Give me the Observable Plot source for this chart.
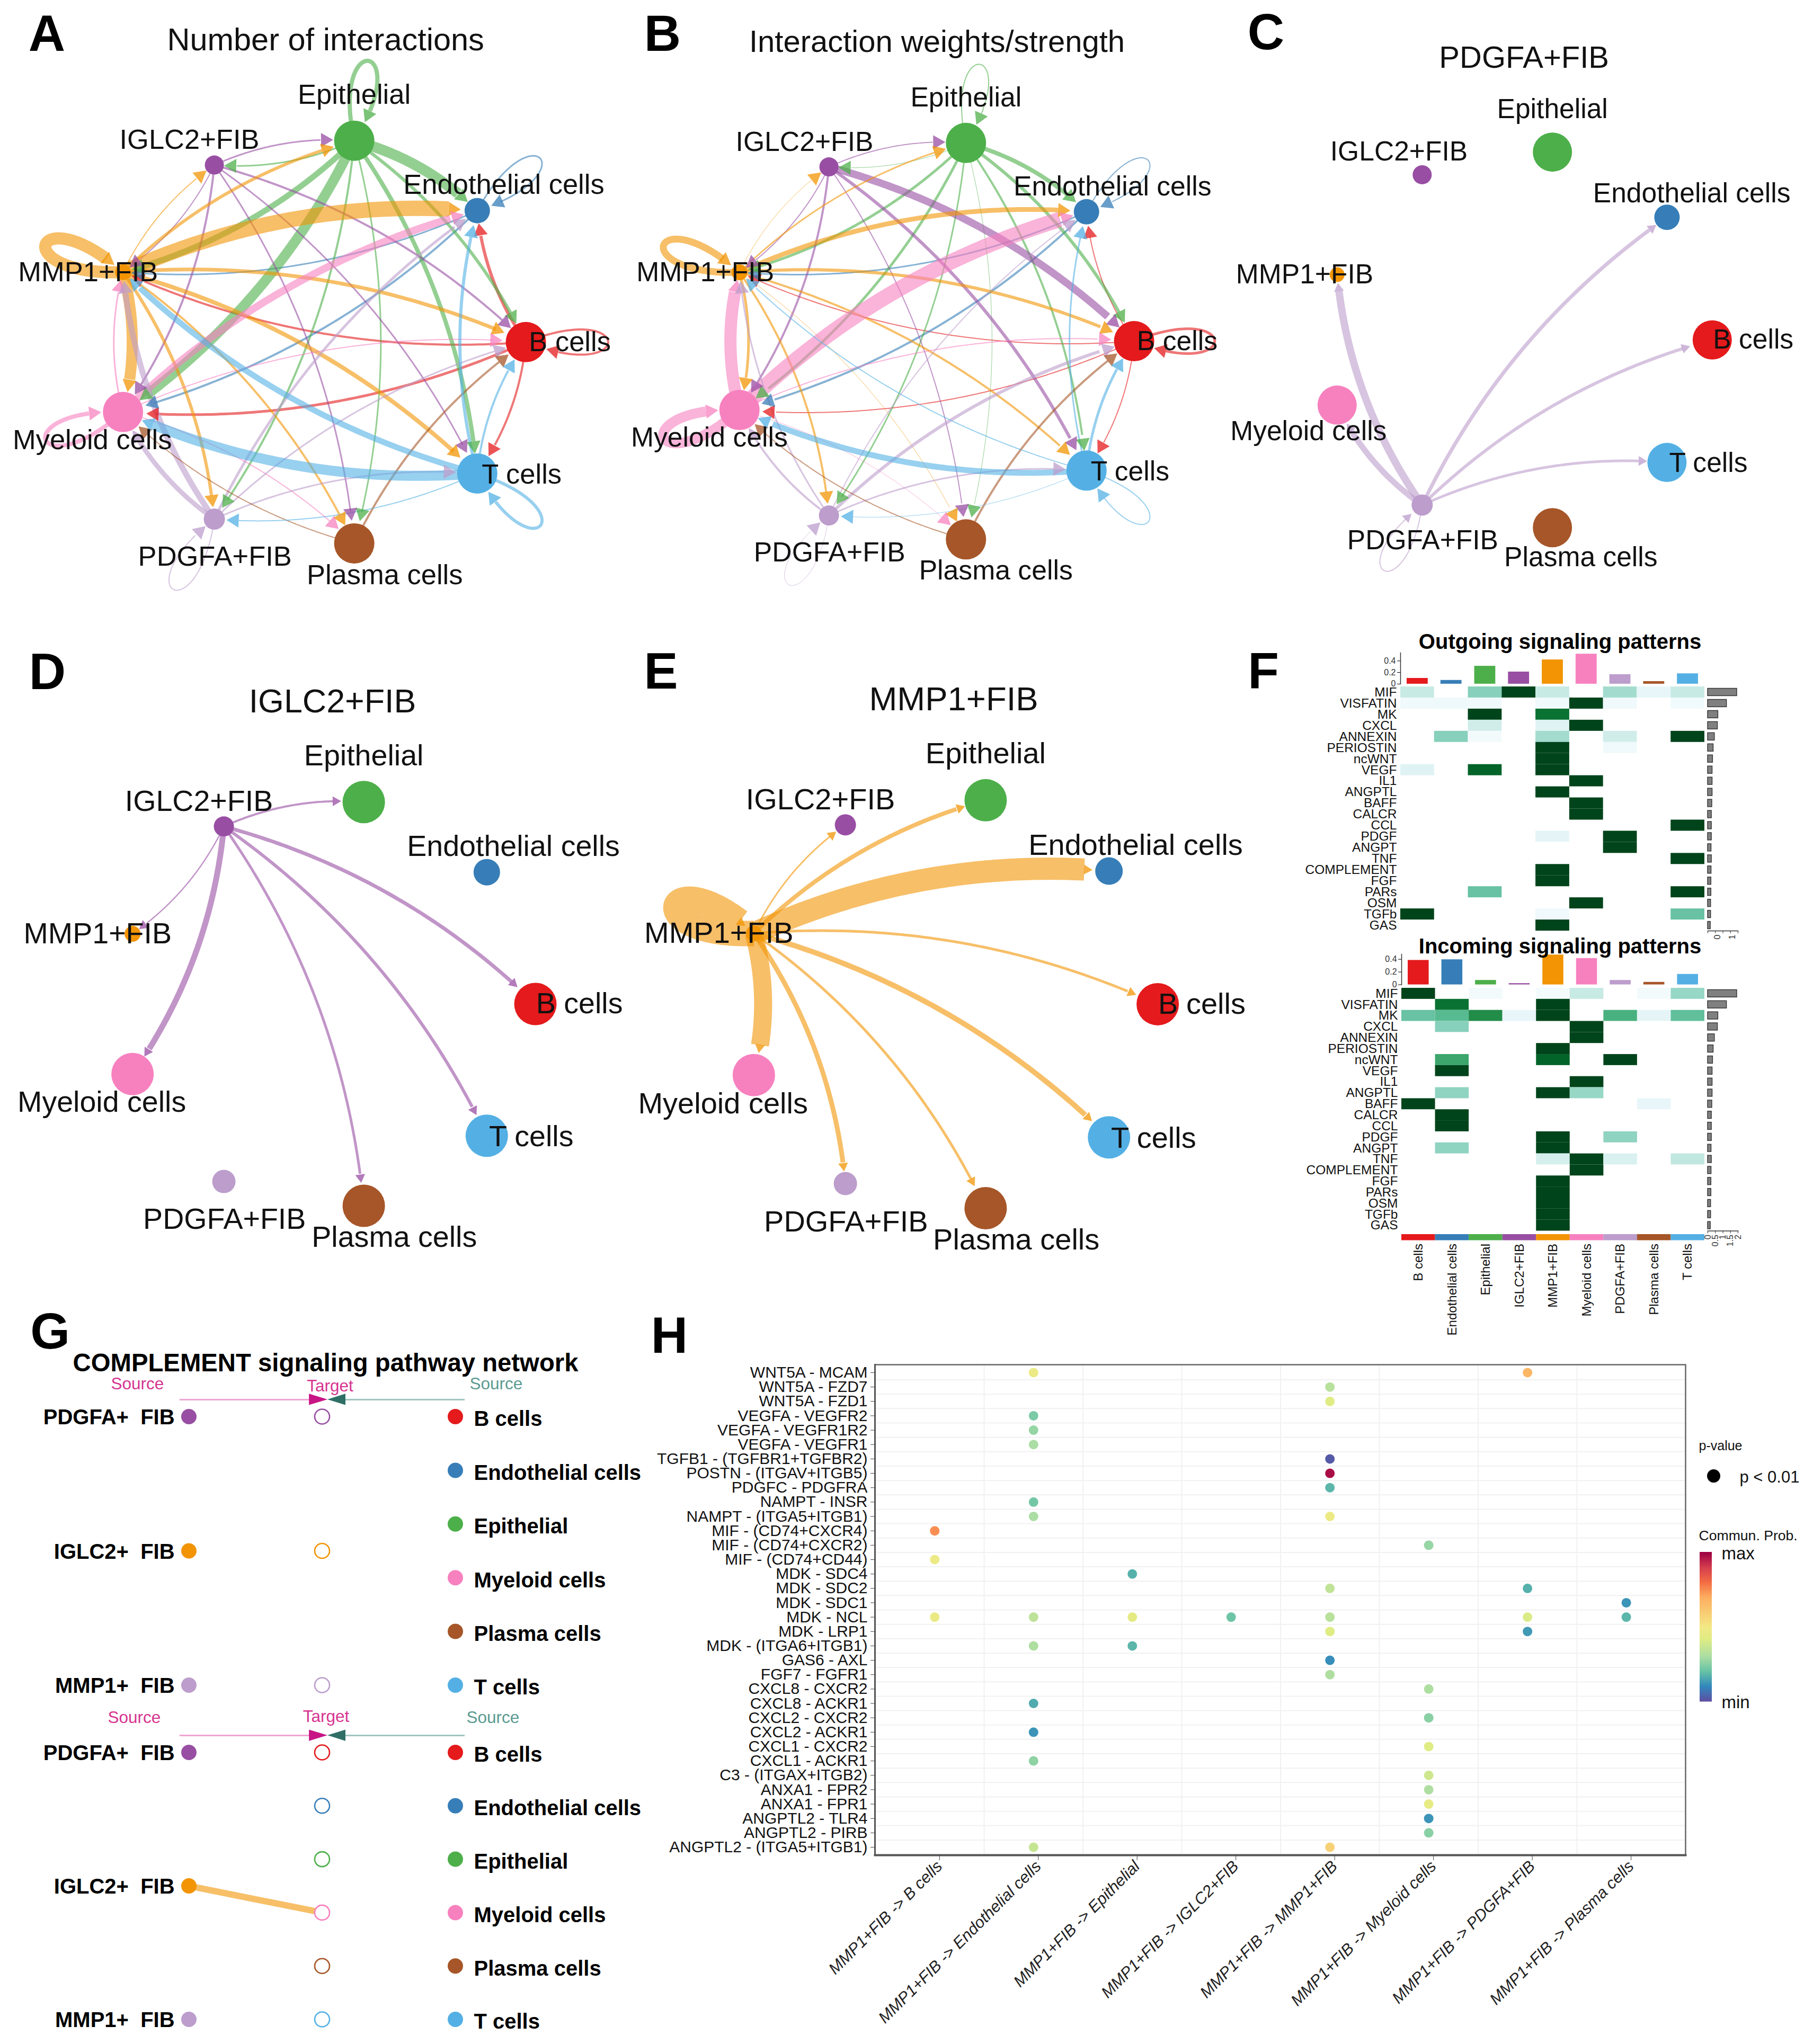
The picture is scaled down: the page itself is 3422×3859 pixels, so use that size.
<!doctype html>
<html><head><meta charset="utf-8">
<script src="https://cdn.jsdelivr.net/npm/d3@7"></script>
<script src="https://cdn.jsdelivr.net/npm/@observablehq/plot@0.6"></script>
<style>
html,body{margin:0;background:#fff}
#page{position:relative;width:3422px;height:3859px;overflow:hidden;background:#fff}
svg text{white-space:pre}
</style></head><body><div id="page"></div>
<script>
const FONT = '"Liberation Sans", Arial, sans-serif';
// ---------- shared categories ----------
const cellTypes = ["B cells","Endothelial cells","Epithelial","IGLC2+FIB","MMP1+FIB","Myeloid cells","PDGFA+FIB","Plasma cells","T cells"];
const cellColors = ["#E41A1C","#377EB8","#4DAF4A","#984EA3","#F29403","#F781BF","#BC9DCC","#A65628","#54B0E4"];
const nodeAngles = [0,40,80,120,160,200,240,280,320];
const labelOffX = [.212,.128,0,-.12,-.168,-.148,.003,.147,.214];
const labelOffY = [0,.125,.225,.122,0,-.138,-.185,-.155,-.005];

// ---------- A / B edge strengths (row = source, column = target) ----------
const interactionCounts = [
 [4,6,0,0,4,5,0,0,4],
 [0,3,0,0,3,4,0,0,0],
 [6,20,8,3,11,19,4,3,8],
 [4,0,3,0,2,4,0,3,3],
 [7,29,6,2,23,21,6,4,8],
 [2,14,0,0,3,8,0,2,0],
 [3,5,0,0,11,9,2,0,3],
 [4,0,0,0,0,2,0,0,0],
 [4,6,0,0,11,19,2,0,6]];
const interactionWeights = [
 [5,2,0,0,2,2,0,0,2],
 [0,2,0,0,3,4,0,0,0],
 [6,8,2,1,5,5,3,1,4],
 [14,0,2,0,2,4,0,2,6],
 [6,9,3,1,13,5,4,1,4],
 [2,29,0,0,23,19,0,1,0],
 [6,2,0,0,3,4,1,0,3],
 [4,0,0,0,0,2,0,0,0],
 [5,3,0,0,2,11,1,0,2]];
const pdgfaEdges = [6,7,0,0,14,11,2,0,5];
const iglc2Edges = [7,0,4,0,2.5,11,0,5,6];
const mmp1Edges  = [5,42,8,3,48,34,9,5,10];
const zeroRow = [0,0,0,0,0,0,0,0,0];
const single = (i,row)=>cellTypes.map((_,k)=>k===i?row:zeroRow);

// ---------- F ----------
const pathways = ["MIF","VISFATIN","MK","CXCL","ANNEXIN","PERIOSTIN","ncWNT","VEGF","IL1","ANGPTL","BAFF","CALCR","CCL","PDGF","ANGPT","TNF","COMPLEMENT","FGF","PARs","OSM","TGFb","GAS"];
const outgoing = [
 [.25,0,.42,1,.25,0,.35,.1,.25],
 [.05,.06,.05,0,.05,1,.05,0,.04],
 [0,0,1,0,.85,0,0,0,0],
 [0,0,.22,0,.15,1,0,0,0],
 [0,.42,.03,0,.35,0,.22,0,1],
 [0,0,0,0,1,0,.05,0,0],
 [0,0,0,0,1,0,0,0,0],
 [.15,0,.9,0,1,0,0,0,0],
 [0,0,0,0,0,1,0,0,0],
 [0,0,0,0,1,0,0,0,0],
 [0,0,0,0,0,1,0,0,0],
 [0,0,0,0,0,1,0,0,0],
 [0,0,0,0,0,0,0,0,1],
 [0,0,0,0,.12,0,1,0,0],
 [0,0,0,0,0,0,1,0,0],
 [0,0,0,0,0,0,0,0,1],
 [0,0,0,0,1,0,0,0,0],
 [0,0,0,0,1,0,0,0,0],
 [0,0,.5,0,0,0,0,0,1],
 [0,0,0,0,0,1,0,0,0],
 [1,0,0,0,.05,0,0,0,.5],
 [0,0,0,0,1,0,0,0,0]];
const incoming = [
 [1,0,.03,0,.02,.25,0,.03,.38],
 [0,.85,0,0,1,0,0,0,0],
 [.5,.55,.75,.1,1,0,.6,.12,.52],
 [0,.42,0,0,0,1,0,0,0],
 [0,0,0,0,0,1,0,0,0],
 [0,0,0,0,1,0,0,0,0],
 [0,.65,0,0,.9,0,1,0,0],
 [0,1,0,0,0,0,0,0,0],
 [0,0,0,0,0,1,0,0,0],
 [0,.4,0,0,1,.38,0,0,0],
 [1,0,0,0,0,0,0,.1,0],
 [0,1,0,0,0,0,0,0,0],
 [0,1,0,0,0,0,0,0,0],
 [0,0,0,0,1,0,.4,0,0],
 [0,.4,0,0,1,0,0,0,0],
 [0,0,0,0,.2,1,.18,0,.27],
 [0,0,0,0,0,1,0,0,0],
 [0,0,0,0,1,0,0,0,0],
 [0,0,0,0,1,0,0,0,0],
 [0,0,0,0,1,0,0,0,0],
 [0,0,0,0,1,0,0,0,0],
 [0,0,0,0,1,0,0,0,0]];
const outgoingTop = [.10,.065,.31,.21,.42,.52,.165,.045,.18];
const incomingTop = [.385,.395,.07,.02,.47,.415,.07,.04,.165];
const pathwayTotals = [1.93,1.25,.68,.65,.45,.37,.33,.3,.3,.3,.28,.25,.25,.25,.23,.25,.23,.22,.22,.2,.2,.18];

// ---------- G ----------
const leftNames = ["PDGFA+  FIB","IGLC2+  FIB","MMP1+  FIB"];
const leftKeys = ["IGLC2+FIB","MMP1+FIB","PDGFA+FIB"];
const leftRows = [0,2.5,5];
const rightNames = ["B cells","Endothelial cells","Epithelial","Myeloid cells","Plasma cells","T cells"];

// ---------- H ----------
const lrPairs = ["WNT5A - MCAM","WNT5A - FZD7","WNT5A - FZD1","VEGFA - VEGFR2","VEGFA - VEGFR1R2","VEGFA - VEGFR1","TGFB1 - (TGFBR1+TGFBR2)","POSTN - (ITGAV+ITGB5)","PDGFC - PDGFRA","NAMPT - INSR","NAMPT - (ITGA5+ITGB1)","MIF - (CD74+CXCR4)","MIF - (CD74+CXCR2)","MIF - (CD74+CD44)","MDK - SDC4","MDK - SDC2","MDK - SDC1","MDK - NCL","MDK - LRP1","MDK - (ITGA6+ITGB1)","GAS6 - AXL","FGF7 - FGFR1","CXCL8 - CXCR2","CXCL8 - ACKR1","CXCL2 - CXCR2","CXCL2 - ACKR1","CXCL1 - CXCR2","CXCL1 - ACKR1","C3 - (ITGAX+ITGB2)","ANXA1 - FPR2","ANXA1 - FPR1","ANGPTL2 - TLR4","ANGPTL2 - PIRB","ANGPTL2 - (ITGA5+ITGB1)"];
const pairTargets = ["MMP1+FIB -> B cells","MMP1+FIB -> Endothelial cells","MMP1+FIB -> Epithelial","MMP1+FIB -> IGLC2+FIB","MMP1+FIB -> MMP1+FIB","MMP1+FIB -> Myeloid cells","MMP1+FIB -> PDGFA+FIB","MMP1+FIB -> Plasma cells"];
const bubbleRow = [0,0,1,2,3,4,5,6,7,8,9,10,10,11,12,13,14,15,15,16,17,17,17,17,17,17,17,18,18,19,19,20,21,22,23,24,25,26,27,28,29,30,31,32,33,33];
const bubbleCol = [2,7,5,5,2,2,2,5,5,5,2,2,5,1,6,1,3,5,7,8,1,2,3,4,5,7,8,5,7,2,3,5,5,6,2,6,2,6,2,6,6,6,6,6,2,5];
const bubbleProb = [.47,.67,.33,.42,.23,.27,.3,.02,.98,.18,.22,.3,.47,.75,.27,.47,.17,.35,.17,.12,.46,.34,.44,.21,.33,.41,.18,.42,.13,.31,.18,.11,.31,.31,.16,.25,.12,.42,.26,.38,.31,.45,.12,.25,.36,.58];
const probStops = [0,.1,.2,.3,.42,.5,.7,.8,.9,1];
const probColors = ["#5E4FA2","#3288BD","#66C2A5","#ABDDA4","#E0EC84","#F3E885","#FDAE61","#F46D43","#D53E4F","#9E0142"];

// ---------- helpers ----------
const page = document.getElementById("page");
function place(plot,left,top){
  Object.assign(plot.style,{position:"absolute",left:left+"px",top:top+"px",maxWidth:"none",background:"transparent",overflow:"visible",fontFamily:FONT});
  page.append(plot);
}
const rad = d=>d*Math.PI/180;
const colorScale = {domain:cellTypes,range:cellColors,type:"ordinal"};

function network({cx,cy,rx,ry,matrix,sizes,title,titleX,titleY,labelSize,titleSize,head}){
  const ext=1.62, w=2*ext*rx, h=2*ext*ry;
  const nodes = cellTypes.map((name,i)=>({name,x:Math.cos(rad(nodeAngles[i])),y:Math.sin(rad(nodeAngles[i])),r:sizes[i],
     lx:Math.cos(rad(nodeAngles[i]))+labelOffX[i],ly:Math.sin(rad(nodeAngles[i]))+labelOffY[i]}));
  const pts=[],heads=[]; let id=0;
  const hl=head/rx, n=90;
  matrix.forEach((row,s)=>row.forEach((width,t)=>{
    if(!width) return;
    const S=nodes[s],T=nodes[t],curve=[];
    if(s===t){
      const L=.57,phi=22,th=nodeAngles[s];
      const c1=[S.x+L*Math.cos(rad(th+phi)),S.y+L*Math.sin(rad(th+phi))];
      const c2=[S.x+L*Math.cos(rad(th-phi)),S.y+L*Math.sin(rad(th-phi))];
      for(let k=0;k<=n;k++){const u=k/n,v=1-u;
        curve.push([v*v*v*S.x+3*v*v*u*c1[0]+3*v*u*u*c2[0]+u*u*u*S.x,v*v*v*S.y+3*v*v*u*c1[1]+3*v*u*u*c2[1]+u*u*u*S.y]);}
    } else {
      const dx=T.x-S.x,dy=T.y-S.y;
      const c=[(S.x+T.x)/2-dy*.13,(S.y+T.y)/2+dx*.13];
      for(let k=0;k<=n;k++){const u=k/n,v=1-u;
        curve.push([v*v*S.x+2*v*u*c[0]+u*u*T.x,v*v*S.y+2*v*u*c[1]+u*u*T.y]);}
    }
    const rT=T.r/rx, dist=p=>Math.hypot(p[0]-T.x,p[1]-T.y);
    let tipI=curve.length-1; while(tipI>0&&dist(curve[tipI])<rT) tipI--;
    let cutI=tipI; while(cutI>0&&dist(curve[cutI])<rT+hl) cutI--;
    const tip=curve[tipI],cut=curve[cutI];
    const len=Math.hypot(tip[0]-cut[0],tip[1]-cut[1])||1,ux=(tip[0]-cut[0])/len,uy=(tip[1]-cut[1])/len;
    curve.slice(0,cutI+1).forEach(p=>pts.push({id,source:S.name,width,x:p[0],y:p[1]}));
    heads.push({source:S.name,x:tip[0]-ux*hl*2/3,y:tip[1]-uy*hl*2/3,angle:Math.atan2(ux,uy)*180/Math.PI});
    id++;
  }));
  const plot=Plot.plot({width:w,height:h,margin:0,
    x:{domain:[-ext,ext],range:[0,w],axis:null},y:{domain:[-ext,ext],range:[h,0],axis:null},
    color:colorScale,r:{type:"identity"},style:{background:"transparent"},
    marks:[
      Plot.line(pts,{x:"x",y:"y",z:"id",stroke:"source",strokeWidth:"width",strokeOpacity:.6,strokeLinecap:"butt",strokeLinejoin:"round"}),
      Plot.dot(heads,{x:"x",y:"y",symbol:"triangle",r:head*.4287,rotate:"angle",fill:"source",fillOpacity:.75,stroke:"none"}),
      Plot.dot(nodes,{x:"x",y:"y",r:"r",fill:"name",stroke:"none"}),
      Plot.text(nodes,{x:"lx",y:"ly",text:"name",fontSize:labelSize,fill:"#111",fontFamily:FONT}),
      Plot.text([title],{x:()=>titleX,y:()=>titleY,text:d=>d,fontSize:titleSize,fill:"#111",fontFamily:FONT})
    ]});
  place(plot,cx-ext*rx,cy-ext*ry);
}

network({cx:600,cy:645,rx:392,ry:386,matrix:interactionCounts,sizes:[38,24,38,18,15,38,20,38,38],title:"Number of interactions",titleX:.036,titleY:1.477,labelSize:52.5,titleSize:59.5,head:23});
network({cx:1756,cy:643.5,rx:384,ry:380,matrix:interactionWeights,sizes:[38,24,38,18,15,38,19,38,38],title:"Interaction weights/strength",titleX:.031,titleY:1.485,labelSize:51.7,titleSize:58,head:23});
network({cx:2866,cy:641,rx:365,ry:360,matrix:single(6,pdgfaEdges),sizes:[37,24,37,18,14,37,20,37,37],title:"PDGFA+FIB",titleX:.027,titleY:1.478,labelSize:51.6,titleSize:58,head:16});
network({cx:618,cy:1895,rx:392,ry:387,matrix:single(3,iglc2Edges),sizes:[40,25,40,19,15,40,22,40,40],title:"IGLC2+FIB",titleX:.023,titleY:1.475,labelSize:55.6,titleSize:62.8,head:16});
network({cx:1792,cy:1895,rx:393,ry:391,matrix:single(4,mmp1Edges),sizes:[40,26,40,20,15,40,22,40,40],title:"MMP1+FIB",titleX:.02,titleY:1.47,labelSize:56,titleSize:63.5,head:16});

// ---------- F ----------
function flat(matrix){return matrix.flatMap((r,i)=>r.map((v,j)=>({row:pathways[i],col:cellTypes[j],v}))).filter(d=>d.v>0);}
function heatBlock({matrix,topBars,left,right,top,bottom,barZero,barScale,barMax,title,titleY,rightTicks,rightDx}){
  const w=right-left,h=bottom-top,mL=340;
  place(Plot.plot({width:mL+w,height:h,marginLeft:mL,marginRight:0,marginTop:0,marginBottom:0,
    x:{domain:cellTypes,padding:0,round:false,axis:null},y:{domain:pathways,padding:0,round:false,label:null},
    color:{type:"linear",scheme:"BuGn",domain:[0,1]},style:{background:"transparent"},
    marks:[Plot.cell(flat(matrix),{x:"col",y:"row",fill:"v"}),
      Plot.axisY({anchor:"left",tickSize:0,tickPadding:7,fontSize:24.5,label:null,fontFamily:FONT,fill:"#111"})]}),left-mL,top);
  // top bars
  const barH=barMax*barScale, mL2=44;
  const bars=cellTypes.map((name,i)=>({name,v:topBars[i]}));
  place(Plot.plot({width:mL2+w,height:barH,marginLeft:mL2,marginRight:0,marginTop:0,marginBottom:0,
    x:{domain:cellTypes,padding:0,round:false,axis:null},y:{domain:[0,barMax],label:null},color:colorScale,style:{background:"transparent"},
    marks:[Plot.barY(bars,{x:"name",y:"v",fill:"name",insetLeft:12,insetRight:12}),
      Plot.frame({anchor:"left",stroke:"#333",strokeWidth:1.5}),
      Plot.axisY({anchor:"left",ticks:[0,.2,.4],tickSize:6,tickPadding:3,fontSize:16,label:null,tickFormat:d=>String(d),fontFamily:FONT,fill:"#333"})]}),left-mL2,barZero-barH);
  // right bars
  const rx0=3223,rw=57,mB=42;
  const tot=pathways.map((name,i)=>({name,v:pathwayTotals[i]}));
  place(Plot.plot({width:rw+6,height:h+mB,marginLeft:0,marginRight:6,marginTop:0,marginBottom:mB,
    x:{domain:[0,2],range:[0,rw],label:null,axis:null},y:{domain:pathways,padding:0,round:false,axis:null},style:{background:"transparent"},
    marks:[Plot.barX(tot,{x:"v",y:"name",fill:"#808080",stroke:"#333",strokeWidth:1.4,insetTop:3.5,insetBottom:3.5}),
      Plot.frame({anchor:"bottom",stroke:"#333",strokeWidth:1.5}),
      Plot.axisX({anchor:"bottom",ticks:[0,.5,1,1.5,2],tickSize:5,tickFormat:()=>"",label:null,stroke:"#333"}),
      Plot.axisX({anchor:"bottom",ticks:rightTicks,tickSize:0,tickPadding:7,tickRotate:-90,fontSize:16,dx:rightDx,tickFormat:d=>String(d),label:null,fontFamily:FONT,fill:"#333"})]}),rx0,top);
  // title
  place(Plot.plot({width:800,height:60,margin:0,x:{domain:[0,1],axis:null},y:{domain:[0,1],axis:null},style:{background:"transparent"},
    marks:[Plot.text([title],{x:()=>.5,y:()=>.5,text:d=>d,fontSize:40,fontWeight:"bold",fill:"#000",fontFamily:FONT})]}),2944-400,titleY-30);
}
heatBlock({matrix:outgoing,topBars:outgoingTop,left:2643,right:3217,top:1296,bottom:1757,barZero:1290.6,barScale:109,barMax:.54,title:"Outgoing signaling patterns",titleY:1212,rightTicks:[0,1],rightDx:18});
heatBlock({matrix:incoming,topBars:incomingTop,left:2645,right:3217,top:1864.5,bottom:2323,barZero:1859,barScale:120,barMax:.48,title:"Incoming signaling patterns",titleY:1787,rightTicks:[0,.5,1,1.5,2],rightDx:0});
place(Plot.plot({width:572,height:200,marginLeft:0,marginRight:0,marginTop:0,marginBottom:188.5,
  x:{domain:cellTypes,padding:0,round:false,label:null},color:colorScale,style:{background:"transparent"},
  marks:[Plot.cell(cellTypes,{x:d=>d,fill:d=>d}),
    Plot.axisX({anchor:"bottom",tickSize:0,tickPadding:6,tickRotate:-90,fontSize:24,label:null,fontFamily:FONT,fill:"#111"})]}),2645,2329.5);

// ---------- G ----------
function hierarchy({svgTop,row0,rowStep,targets,edges,srcX,tgtX,dstX,hdrY,tgtHdrY,lineY}){
  const h=720,x0=356,xStep=251.5;
  const titleMark=targets.length===3?[Plot.text(["COMPLEMENT signaling pathway network"],{x:()=>1.026,y:()=>(2573-row0)/rowStep,text:d=>d,fontSize:47.3,fontWeight:"bold",fill:"#000",fontFamily:FONT})]:[];
  place(Plot.plot({width:1240,height:h,margin:0,
    x:{domain:[0,2],range:[x0,x0+2*xStep],axis:null},y:{domain:[0,5],range:[row0-svgTop,row0-svgTop+5*rowStep],axis:null},
    color:colorScale,style:{background:"transparent"},
    marks:[...titleMark,
      Plot.text(["Source"],{x:()=>srcX,y:()=>hdrY,text:d=>d,fontSize:31.5,fill:"#D6338F",fontFamily:FONT}),
      Plot.text(["Target"],{x:()=>tgtX,y:()=>tgtHdrY,text:d=>d,fontSize:31.5,fill:"#D6338F",fontFamily:FONT}),
      Plot.text(["Source"],{x:()=>dstX,y:()=>hdrY,text:d=>d,fontSize:31.5,fill:"#5A9A90",fontFamily:FONT}),
      Plot.ruleY([lineY],{x1:-.068,x2:.903,stroke:"#EFA5D2",strokeWidth:3}),
      Plot.ruleY([lineY],{x1:1.177,x2:2.072,stroke:"#9FC6BF",strokeWidth:3}),
      Plot.areaY([{x:.903,a:lineY-.105,b:lineY+.105},{x:1.042,a:lineY,b:lineY}],{x:"x",y1:"a",y2:"b",fill:"#C71585"}),
      Plot.areaY([{x:1.042,a:lineY,b:lineY},{x:1.177,a:lineY-.105,b:lineY+.105}],{x:"x",y1:"a",y2:"b",fill:"#2F6F66"}),
      Plot.link(edges,{x1:()=>0,x2:()=>1,y1:"from",y2:"to",stroke:"key",strokeWidth:"width",strokeOpacity:.6}),
      Plot.dot(leftRows,{x:()=>0,y:d=>d,r:14.5,fill:(d,i)=>leftKeys[i]}),
      Plot.text(leftRows,{x:()=>-.107,y:d=>d,dy:2,text:(d,i)=>leftNames[i],textAnchor:"end",fontSize:40,fontWeight:"bold",fill:"#000",fontFamily:FONT}),
      Plot.dot(targets,{x:()=>1,y:"row",r:14,fill:"white",stroke:"key",strokeWidth:2.6}),
      Plot.dot(rightNames,{x:()=>2,y:(d,i)=>i,r:14.5,fill:d=>d}),
      Plot.text(rightNames,{x:()=>2.139,y:(d,i)=>i,dy:5,text:d=>d,textAnchor:"start",fontSize:40,fontWeight:"bold",fill:"#000",fontFamily:FONT})
    ]}),0,svgTop);
}
hierarchy({svgTop:2540,row0:2674,rowStep:101.4,targets:leftRows.map((row,i)=>({row,key:leftKeys[i]})),edges:[],srcX:-.386,tgtX:1.06,dstX:2.306,hdrY:-.611,tgtHdrY:-.57,lineY:-.316});
hierarchy({svgTop:3200,row0:3308,rowStep:100.8,targets:rightNames.map((key,row)=>({row,key})),edges:[{from:2.5,to:3,key:"MMP1+FIB",width:12}],srcX:-.41,tgtX:1.03,dstX:2.282,hdrY:-.65,tgtHdrY:-.67,lineY:-.317});

// ---------- H ----------
const bubbles=bubbleRow.map((row,i)=>({row,col:bubbleCol[i],p:bubbleProb[i]}));
const probScale={type:"linear",domain:probStops,range:probColors};
place(Plot.plot({width:2222,height:1339,marginLeft:451,marginRight:241,marginTop:56,marginBottom:357,
  x:{domain:[.395,8.6],label:null},y:{domain:[-.552,33.552],range:[56,982],label:null},color:probScale,style:{background:"transparent"},
  marks:[
    Plot.ruleY(d3.range(.5,33,1),{stroke:"#f1f1f1",strokeWidth:2}),
    Plot.ruleX(d3.range(1.5,8,1),{stroke:"#f1f1f1",strokeWidth:2}),
    Plot.frame({stroke:"#666",strokeWidth:2.5}),
    Plot.frame({anchor:"left",stroke:"#555",strokeWidth:3}),
    Plot.frame({anchor:"bottom",stroke:"#555",strokeWidth:4}),
    Plot.dot(bubbles,{x:"col",y:"row",r:9,fill:"p",stroke:"none"}),
    Plot.axisY({anchor:"left",ticks:d3.range(34),tickFormat:i=>lrPairs[i],tickSize:8,tickPadding:6,fontSize:30,label:null,stroke:"#444",fontFamily:FONT,fill:"#111"}),
    Plot.axisX({anchor:"bottom",ticks:d3.range(1,9),tickFormat:i=>pairTargets[i-1],tickSize:10,tickPadding:6,tickRotate:-45,fontSize:30.5,fontStyle:"italic",dx:9,label:null,stroke:"#444",fontFamily:FONT,fill:"#222"})
  ]}),1200,2520);
// H legend
place(Plot.plot({width:232,height:560,margin:0,x:{domain:[0,232],range:[0,232],axis:null},y:{domain:[0,1],range:[511,230.5],axis:null},color:probScale,style:{background:"transparent"},
  marks:[
    Plot.ruleY(d3.range(0,1.0001,.004),{x1:()=>18,x2:()=>41,y:d=>d,stroke:d=>d,strokeWidth:2}),
    Plot.text(["p-value"],{x:()=>16,y:()=>1.718,text:d=>d,textAnchor:"start",fontSize:25,fill:"#111",fontFamily:FONT}),
    Plot.dot(["p < 0.01"],{x:()=>44,y:()=>1.515,r:12.5,fill:"#000"}),
    Plot.text(["p < 0.01"],{x:()=>93,y:()=>1.505,text:d=>d,textAnchor:"start",fontSize:31,fill:"#111",fontFamily:FONT}),
    Plot.text(["Commun. Prob."],{x:()=>16,y:()=>1.112,text:d=>d,textAnchor:"start",fontSize:26.6,fill:"#111",fontFamily:FONT}),
    Plot.text(["max"],{x:()=>59,y:()=>.991,text:d=>d,textAnchor:"start",fontSize:33,fill:"#111",fontFamily:FONT}),
    Plot.text(["min"],{x:()=>59,y:()=>-.01,text:d=>d,textAnchor:"start",fontSize:33,fill:"#111",fontFamily:FONT})
  ]}),3190,2700);

// ---------- panel letters ----------
const panelLetters=["A","B","C","D","E","F","G","H"];
const letterX=[88,1250,2389,89,1247,2384,94,1263];
const letterY=[65,65,62,1270,1269,1268,2515,2523];
place(Plot.plot({width:3422,height:3859,margin:0,x:{domain:[0,3422],range:[0,3422],axis:null},y:{domain:[0,3859],range:[0,3859],axis:null},style:{background:"transparent"},
  marks:[Plot.text(panelLetters,{x:(d,i)=>letterX[i],y:(d,i)=>letterY[i],text:d=>d,fontSize:96,fontWeight:"bold",fill:"#000",fontFamily:FONT})]}),0,0);
</script></body></html>
